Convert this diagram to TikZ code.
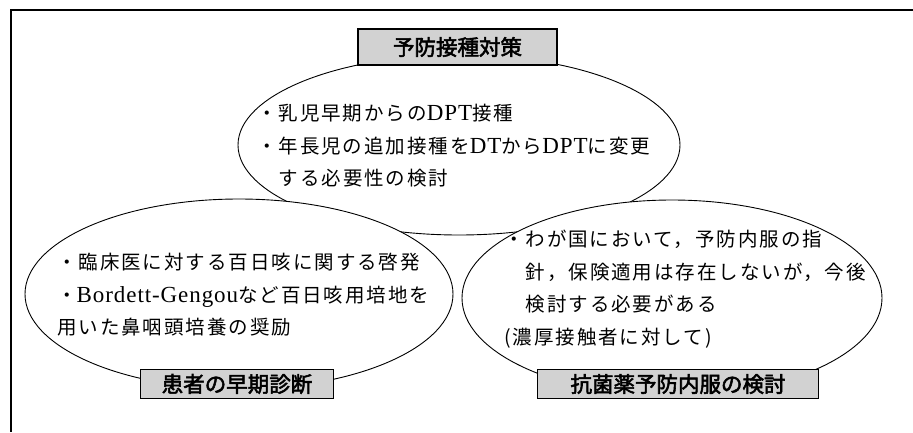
\documentclass[tikz,border=0pt]{standalone}
\usepackage{fontspec}
\usetikzlibrary{shapes.geometric}
\newfontfamily\jp[LetterSpace=10]{Noto Sans CJK JP}
\newfontfamily\jplab[FakeBold=2.5]{Noto Sans CJK JP}
\newfontfamily\lat[LetterSpace=4]{Liberation Serif}
\newcommand\latw[1]{{\lat\fontsize{23}{32.5}\selectfont #1}}
\begin{document}
\begin{tikzpicture}[x=1pt,y=-1pt,
  bubble/.style={draw=black, line width=0.9pt, fill=white, ellipse, inner sep=0pt},
  tagbox/.style={draw=black, line width=1.2pt, fill=gray!35, inner sep=0pt,
                 font=\jplab\fontsize{21.5}{21.5}\selectfont},
  bodytext/.style={anchor=north west, align=left, inner sep=0pt,
                   font=\jp\fontsize{19.5}{32.5}\selectfont}]
\useasboundingbox (0,0) rectangle (913,432);
\fill[white] (0,0) rectangle (913,432);
% frame (top and left edges only)
\coordinate (fTR) at (913,10);
\coordinate (fTL) at (11,10);
\coordinate (fBL) at (11,432);
\draw[line width=1.5pt] (fTR) -- (fTL) -- (fBL);
% ellipses
\node[bubble, minimum width=442, minimum height=180] (topE) at (459,145) {};
\node[bubble, minimum width=428, minimum height=190] (leftE) at (239,294) {};
\node[bubble, minimum width=420, minimum height=196] (rightE) at (672,298) {};
% labels
\node[tagbox, minimum width=199, minimum height=36] (topL) at (457.5,47) {予防接種対策};
\node[tagbox, minimum width=193, minimum height=29] (leftL) at (237,384) {患者の早期診断};
\node[tagbox, minimum width=281, minimum height=29] (rightL) at (678,384) {抗菌薬予防内服の検討};
% texts
\node[bodytext] (topT) at (257,104) {・乳児早期からの\latw{DPT}接種\\
・年長児の追加接種を\latw{DT}から\latw{DPT}に変更\\
\hspace*{21.5pt}する必要性の検討};
\node[bodytext] (leftT) at (57,253) {・臨床医に対する百日咳に関する啓発\\
・\latw{Bordett-Gengou}など百日咳用培地を\\
用いた鼻咽頭培養の奨励};
\node[bodytext] (rightT) at (504,230) {・わが国において，予防内服の指\\
\hspace*{21.5pt}針，保険適用は存在しないが，今後\\
\hspace*{21.5pt}検討する必要がある\\
(濃厚接触者に対して)};
\end{tikzpicture}
\end{document}
